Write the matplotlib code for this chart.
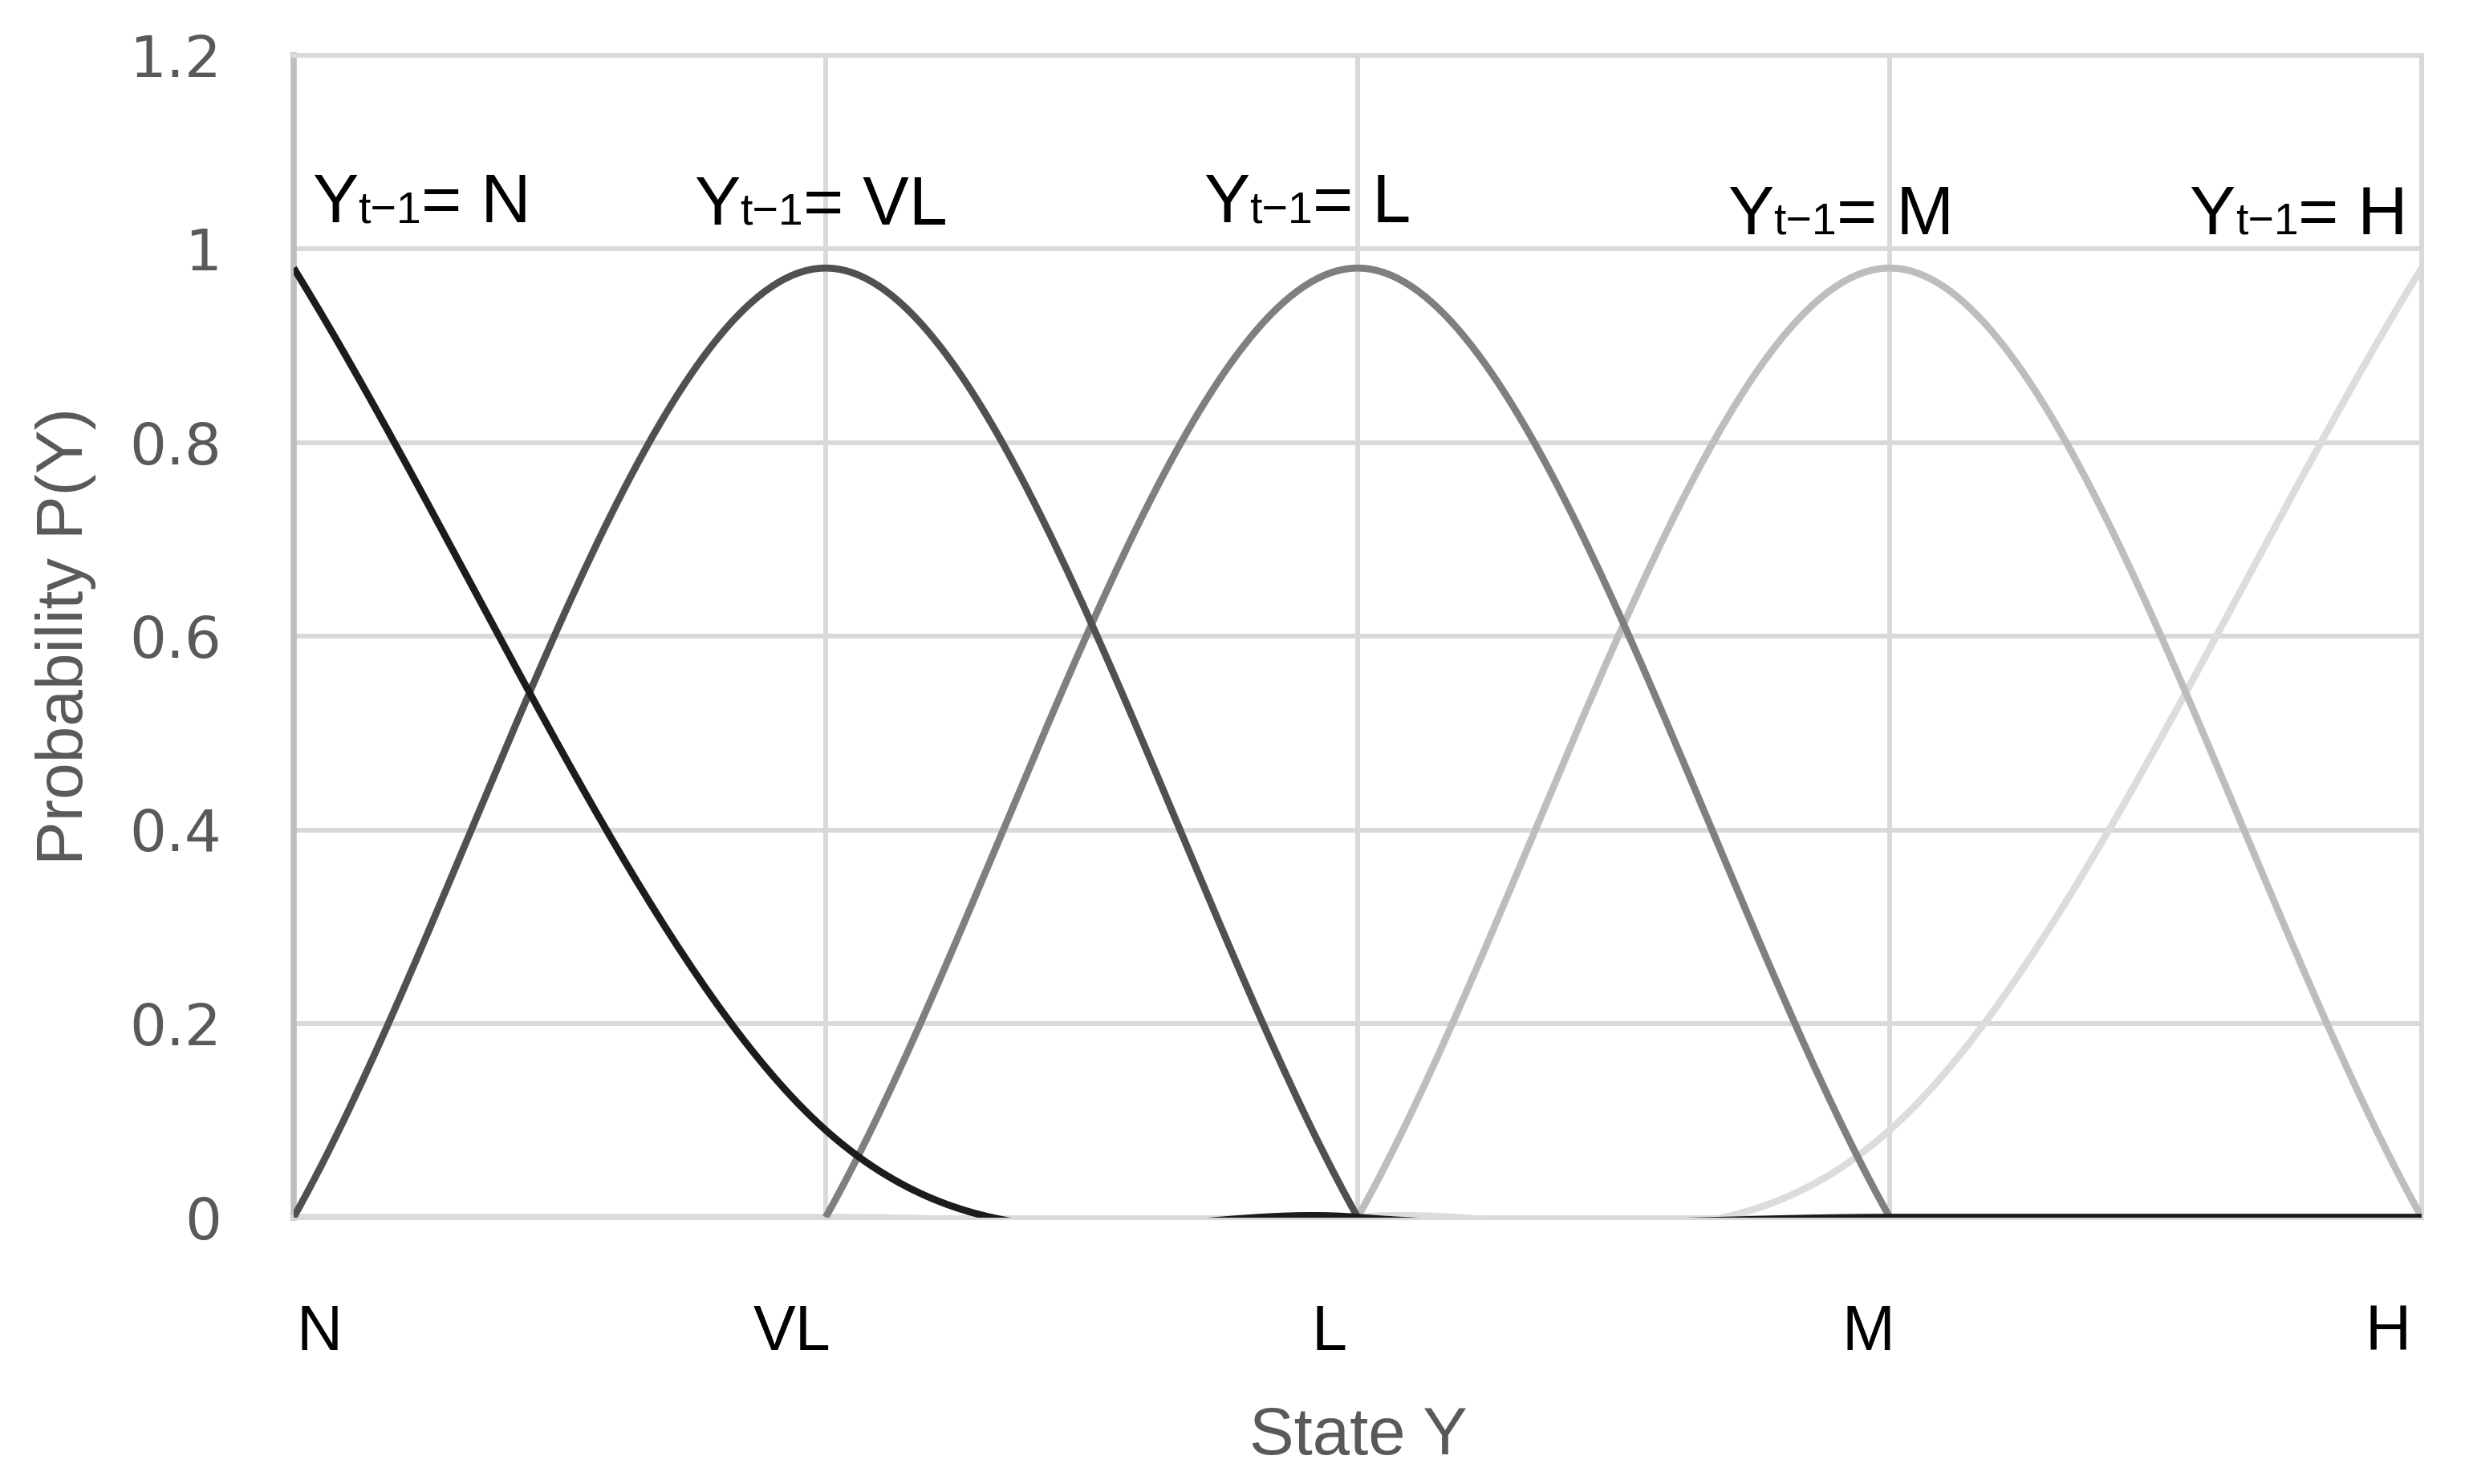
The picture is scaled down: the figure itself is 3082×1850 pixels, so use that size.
import numpy as np
import matplotlib
matplotlib.use('Agg')
import matplotlib.pyplot as plt
from matplotlib.transforms import offset_copy

# Categories (state Y) and transition probabilities for each previous state
categories = ['N', 'VL', 'L', 'M', 'H']
p_n = [0.98, 0.09, 0.0, 0.0, 0.0]
p_vl = [0.0, 0.98, 0.0, np.nan, np.nan]
p_l = [np.nan, 0.0, 0.98, 0.0, np.nan]
p_m = [np.nan, np.nan, 0.0, 0.98, 0.0]
p_h = [0.0, 0.0, 0.0, 0.09, 0.98]
series_names = ['N', 'VL', 'L', 'M', 'H']
y_ticks = [0, 0.2, 0.4, 0.6, 0.8, 1.0, 1.2]
y_tick_labels = ['0', '0.2', '0.4', '0.6', '0.8', '1', '1.2']

colors = ['#1c1c1c', '#505050', '#7f7f7f', '#bdbdbd', '#dcdcdc']


def smooth(ys, n=80):
    # Excel-like smoothed line: cardinal spline, endpoints use segment slope
    ys = np.asarray(ys, dtype=float)
    idx = np.where(~np.isnan(ys))[0]
    xs, v = idx.astype(float), ys[idx]
    k = len(v)
    m = np.zeros(k)
    for i in range(k):
        if i == 0:
            m[i] = v[1] - v[0]
        elif i == k - 1:
            m[i] = v[-1] - v[-2]
        else:
            m[i] = (v[i + 1] - v[i - 1]) / 2
    out_x, out_y = [], []
    t = np.linspace(0, 1, n)
    h00 = 2 * t**3 - 3 * t**2 + 1
    h10 = t**3 - 2 * t**2 + t
    h01 = -2 * t**3 + 3 * t**2
    h11 = t**3 - t**2
    for i in range(k - 1):
        out_x.append(xs[i] + t)
        out_y.append(h00 * v[i] + h10 * m[i] + h01 * v[i + 1] + h11 * m[i + 1])
    return np.concatenate(out_x), np.concatenate(out_y)


fig = plt.figure(figsize=(30.82, 18.5), dpi=100)
ax = fig.add_axes([366 / 3082, 1 - 1517.5 / 1850, (3018 - 366) / 3082, 1449 / 1850])

all_series = [p_n, p_vl, p_l, p_m, p_h]
# draw last series first so N ends on top
for vals, col in list(zip(all_series, colors))[::-1]:
    x, y = smooth(vals)
    ax.plot(x, y, color=col, lw=6.3, solid_capstyle='butt', zorder=3)

ax.set_xlim(0, 4)
ax.set_ylim(0, 1.2)
ax.set_xticks(range(len(categories)))
ax.set_xticklabels([])
ax.set_yticks(y_ticks)
ax.set_yticklabels(y_tick_labels, fontsize=52, color='#595959', family='DejaVu Sans')
ax.tick_params(length=0)
ax.tick_params(axis='y', pad=65)
ax.grid(True, color='#d9d9d9', lw=4.3, zorder=0)
ax.set_axisbelow(True)
for s in ['top', 'right', 'bottom']:
    ax.spines[s].set_color('#d9d9d9')
    ax.spines[s].set_linewidth(4.3)
ax.spines['left'].set_color('#bfbfbf')
ax.spines['left'].set_linewidth(5.5)

# category labels under the axis
label_nudge = [0.048, -0.063, -0.053, -0.04, -0.063]
for i, (c, d) in enumerate(zip(categories, label_nudge)):
    ax.text(i + d, -0.1142, c, transform=ax.get_xaxis_transform(), ha='center',
            va='baseline', fontsize=57, color='black',
            family=['Liberation Sans Narrow', 'Liberation Sans'])

fig.text(1693 / 3082, 1 - 1813 / 1850, 'State Y', ha='center', va='baseline',
         fontsize=60, color='#595959', family='Liberation Sans')
fig.text(82 / 3082, 1 - 793 / 1850, 'Probability P(Y)', ha='center', va='center',
         rotation=90, fontsize=59, color='#595959', family='Liberation Sans')

# curve labels "Yt-1= X"
ann_pos = [(0.035, 1.027), (0.753, 1.025), (1.710, 1.027), (2.695, 1.015), (3.563, 1.015)]
renderer = fig.canvas.get_renderer()
for name, (xa, ya) in zip(series_names, ann_pos):
    dx = 0
    for part, size in [('Y', 62), ('t\u22121', 40), ('= ' + name, 62)]:
        tr = offset_copy(ax.transData, fig=fig, x=dx, y=0, units='dots')
        t = ax.text(xa, ya, part, transform=tr, fontsize=size, va='baseline',
                    ha='left', color='black', family='Liberation Sans', zorder=5)
        dx += t.get_window_extent(renderer).width

fig.savefig('out.png', dpi=100, facecolor='white')
